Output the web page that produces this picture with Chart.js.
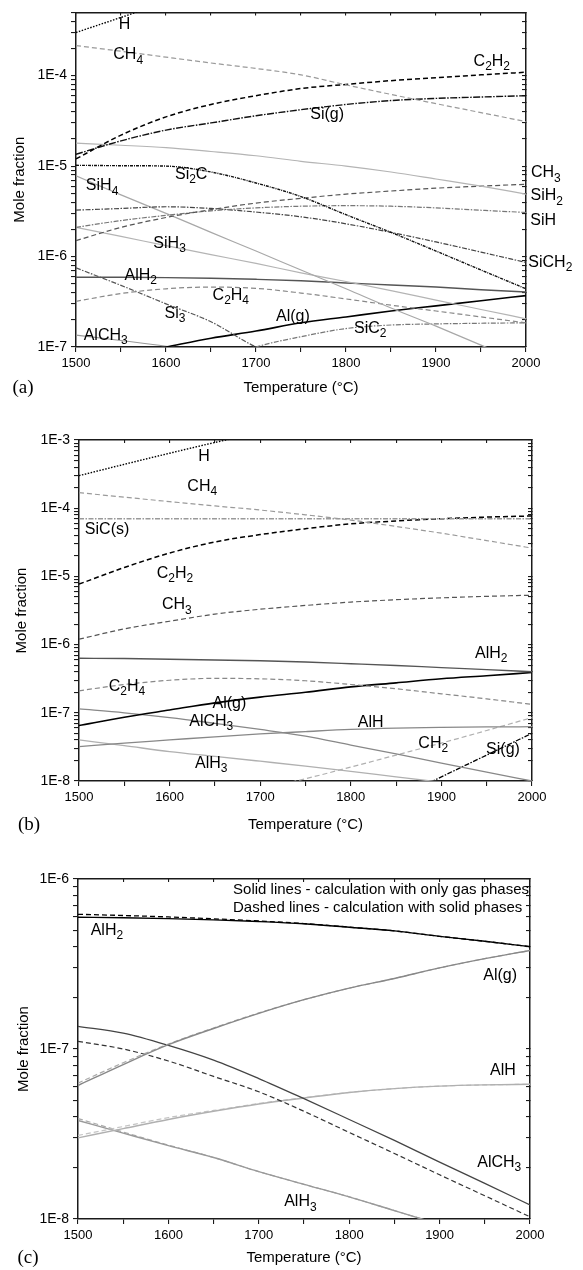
<!DOCTYPE html>
<html><head><meta charset="utf-8">
<script src="https://cdn.jsdelivr.net/npm/chart.js@4.4.1/dist/chart.umd.min.js"></script>
<style>
html,body{margin:0;padding:0;background:#fff;}
#wrap{position:relative;width:583px;height:1270px;overflow:hidden;}
canvas{position:absolute;left:0;}
</style>
</head><body><div id="wrap">
<canvas id="ca" width="583" height="420" style="top:0px;width:583px;height:420px"></canvas>
<canvas id="cb" width="583" height="430" style="top:410px;width:583px;height:430px"></canvas>
<canvas id="cc" width="583" height="440" style="top:830px;width:583px;height:440px"></canvas>
</div>
<script>
const FONT = '"Liberation Sans", Arial, Helvetica, sans-serif';
const SERIF = '"Liberation Serif", "Times New Roman", serif';

// ---------- shared x categories (temperature, °C) ----------
const T = [1500,1550,1600,1650,1700,1750,1800,1850,1900,1950,2000];

// ---------- panel (a) : mole fractions ----------
const a_H     = [3.0e-4,4.4e-4,6.5e-4,9.2e-4,1.3e-3,null,null,null,null,null,null];
const a_CH4   = [2.15e-4,1.86e-4,1.6e-4,1.38e-4,1.2e-4,1.02e-4,7.9e-5,6.2e-5,4.9e-5,3.9e-5,3.1e-5];
const a_C2H2  = [1.2e-5,2.2e-5,3.5e-5,4.8e-5,6.0e-5,7.2e-5,8.0e-5,8.8e-5,9.5e-5,1.02e-4,1.09e-4];
const a_Sig   = [1.35e-5,1.9e-5,2.5e-5,3.0e-5,3.6e-5,4.2e-5,4.8e-5,5.3e-5,5.6e-5,5.8e-5,6.0e-5];
const a_SiH2  = [1.79e-5,1.7e-5,1.6e-5,1.45e-5,1.3e-5,1.13e-5,1.0e-5,8.6e-6,7.2e-6,6.0e-6,4.9e-6];
const a_Si2C  = [1.02e-5,1.01e-5,1.0e-5,8.6e-6,6.5e-6,4.6e-6,2.9e-6,1.85e-6,1.15e-6,7.1e-7,4.4e-7];
const a_CH3   = [1.5e-6,2.1e-6,2.7e-6,3.3e-6,3.9e-6,4.4e-6,4.9e-6,5.3e-6,5.7e-6,6.0e-6,6.3e-6];
const a_SiH   = [2.1e-6,2.5e-6,2.85e-6,3.2e-6,3.45e-6,3.6e-6,3.65e-6,3.6e-6,3.45e-6,3.25e-6,3.07e-6];
const a_SiCH2 = [3.26e-6,3.4e-6,3.55e-6,3.4e-6,3.1e-6,2.75e-6,2.3e-6,1.85e-6,1.45e-6,1.12e-6,8.6e-7];
const a_SiH4  = [7.8e-6,4.8e-6,3.0e-6,1.85e-6,1.15e-6,7.1e-7,4.4e-7,2.7e-7,1.7e-7,1.05e-7,6.5e-8];
const a_SiH3  = [2.1e-6,1.67e-6,1.32e-6,1.05e-6,8.4e-7,6.6e-7,5.3e-7,4.2e-7,3.3e-7,2.6e-7,2.05e-7];
const a_AlH2  = [5.9e-7,5.9e-7,5.85e-7,5.75e-7,5.6e-7,5.4e-7,5.1e-7,4.85e-7,4.6e-7,4.3e-7,4.05e-7];
const a_C2H4  = [3.2e-7,3.9e-7,4.4e-7,4.6e-7,4.45e-7,3.95e-7,3.4e-7,2.9e-7,2.5e-7,2.15e-7,1.85e-7];
const a_Si3   = [7.5e-7,4.8e-7,3.0e-7,1.9e-7,1.0e-7,6.5e-8,null,null,null,null,null];
const a_Alg   = [6.3e-8,8.0e-8,1.0e-7,1.25e-7,1.5e-7,1.85e-7,2.15e-7,2.5e-7,2.85e-7,3.25e-7,3.7e-7];
const a_SiC2  = [null,null,null,6.5e-8,1.0e-7,1.3e-7,1.6e-7,1.75e-7,1.8e-7,1.83e-7,1.85e-7];
const a_AlCH3 = [1.35e-7,1.18e-7,1.02e-7,8.5e-8,null,null,null,null,null,null,null];

// ---------- panel (b) ----------
const b_H     = [3.0e-4,4.4e-4,6.4e-4,9.2e-4,1.3e-3,null,null,null,null,null,null];
const b_CH4   = [1.69e-4,1.45e-4,1.25e-4,1.08e-4,9.4e-5,8.0e-5,6.7e-5,5.4e-5,4.3e-5,3.35e-5,2.6e-5];
const b_SiCs  = [7.0e-5,7.0e-5,7.0e-5,7.0e-5,7.0e-5,7.0e-5,7.0e-5,7.0e-5,7.0e-5,7.0e-5,7.0e-5];
const b_C2H2  = [7.7e-6,1.35e-5,2.2e-5,3.2e-5,4.1e-5,5.0e-5,5.9e-5,6.5e-5,7.0e-5,7.4e-5,7.7e-5];
const b_CH3   = [1.2e-6,1.7e-6,2.2e-6,2.8e-6,3.3e-6,3.75e-6,4.2e-6,4.55e-6,4.85e-6,5.1e-6,5.3e-6];
const b_AlH2  = [6.3e-7,6.25e-7,6.1e-7,5.95e-7,5.8e-7,5.55e-7,5.25e-7,4.95e-7,4.6e-7,4.3e-7,4.0e-7];
const b_C2H4  = [2.1e-7,2.6e-7,3.0e-7,3.2e-7,3.15e-7,2.95e-7,2.6e-7,2.25e-7,1.9e-7,1.6e-7,1.33e-7];
const b_Alg   = [6.5e-8,8.6e-8,1.1e-7,1.4e-7,1.7e-7,2.0e-7,2.4e-7,2.75e-7,3.15e-7,3.5e-7,3.9e-7];
const b_AlCH3 = [1.14e-7,1.0e-7,8.5e-8,7.0e-8,5.7e-8,4.55e-8,3.37e-8,2.5e-8,1.83e-8,1.35e-8,1.0e-8];
const b_AlH   = [3.2e-8,3.6e-8,4.0e-8,4.45e-8,4.9e-8,5.3e-8,5.7e-8,5.95e-8,6.1e-8,6.2e-8,6.25e-8];
const b_AlH3  = [4.0e-8,3.3e-8,2.7e-8,2.3e-8,1.95e-8,1.65e-8,1.38e-8,1.15e-8,9.6e-9,null,null];
const b_CH2   = [null,null,null,null,7.6e-9,1.08e-8,1.6e-8,2.4e-8,3.6e-8,5.5e-8,8.5e-8];
const b_Sig   = [null,null,null,null,null,null,null,5.5e-9,1.15e-8,2.4e-8,5.0e-8];

// ---------- panel (c) : gas-only (g) vs with solid phases (s) ----------
const c_AlH2_g  = [5.96e-7,5.92e-7,5.85e-7,5.75e-7,5.62e-7,5.45e-7,5.2e-7,4.95e-7,4.6e-7,4.3e-7,4.0e-7];
const c_AlH2_s  = [6.2e-7,6.1e-7,5.98e-7,5.83e-7,5.66e-7,5.47e-7,5.21e-7,4.95e-7,4.6e-7,4.3e-7,4.0e-7];
const c_Alg_g   = [6.1e-8,8.1e-8,1.06e-7,1.32e-7,1.62e-7,1.95e-7,2.28e-7,2.6e-7,3.0e-7,3.4e-7,3.8e-7];
const c_Alg_s   = [6.3e-8,8.3e-8,1.07e-7,1.33e-7,1.63e-7,1.95e-7,2.28e-7,2.6e-7,3.0e-7,3.4e-7,3.8e-7];
const c_AlCH3_g = [1.36e-7,1.24e-7,1.05e-7,8.6e-8,6.7e-8,5.1e-8,3.85e-8,2.9e-8,2.16e-8,1.62e-8,1.21e-8];
const c_AlCH3_s = [1.11e-7,1.0e-7,8.5e-8,6.9e-8,5.6e-8,4.3e-8,3.23e-8,2.43e-8,1.82e-8,1.37e-8,1.03e-8];
const c_AlH_g   = [3.0e-8,3.4e-8,3.85e-8,4.3e-8,4.75e-8,5.15e-8,5.55e-8,5.85e-8,6.05e-8,6.15e-8,6.2e-8];
const c_AlH_s   = [3.1e-8,3.5e-8,3.95e-8,4.35e-8,4.78e-8,5.17e-8,5.55e-8,5.85e-8,6.05e-8,6.15e-8,6.2e-8];
const c_AlH3_g  = [3.8e-8,3.2e-8,2.7e-8,2.3e-8,1.9e-8,1.6e-8,1.35e-8,1.12e-8,9.3e-9,null,null];
const c_AlH3_s  = [3.9e-8,3.25e-8,2.72e-8,2.3e-8,1.9e-8,1.6e-8,1.35e-8,1.12e-8,9.3e-9,null,null];

// ---------- text labels ----------
const labelsA = [
  {s:'H',t:1554,v:3.7e-4},{s:'CH_4',t:1558,v:1.69e-4},{s:'C_2H_2',t:1962,v:1.43e-4},
  {s:'Si(g)',t:1779,v:3.7e-5},{s:'Si_2C',t:1628,v:8.1e-6},{s:'CH_3',t:2022,v:8.4e-6},
  {s:'SiH_2',t:2023,v:4.68e-6},{s:'SiH',t:2019,v:2.49e-6},{s:'SiCH_2',t:2027,v:8.65e-7},
  {s:'SiH_4',t:1529,v:6.03e-6},{s:'SiH_3',t:1604,v:1.38e-6},{s:'AlH_2',t:1572,v:6.18e-7},
  {s:'C_2H_4',t:1672,v:3.73e-7},{s:'Si_3',t:1610,v:2.34e-7},{s:'Al(g)',t:1741,v:2.15e-7},
  {s:'SiC_2',t:1827,v:1.6e-7},{s:'AlCH_3',t:1533,v:1.35e-7}
];
const labelsB = [
  {s:'H',t:1638,v:5.7e-4},{s:'CH_4',t:1636,v:2.07e-4},{s:'SiC(s)',t:1531,v:4.8e-5},
  {s:'C_2H_2',t:1606,v:1.11e-5},{s:'CH_3',t:1608,v:3.8e-6},{s:'AlH_2',t:1955,v:7.45e-7},
  {s:'C_2H_4',t:1553,v:2.41e-7},{s:'Al(g)',t:1666,v:1.38e-7},{s:'AlCH_3',t:1646,v:7.4e-8},
  {s:'AlH',t:1822,v:7.2e-8},{s:'CH_2',t:1891,v:3.57e-8},{s:'Si(g)',t:1968,v:2.85e-8},
  {s:'AlH_3',t:1646,v:1.82e-8}
];
const labelsC = [
  {s:'AlH_2',t:1532,v:5.0e-7},{s:'Al(g)',t:1967,v:2.72e-7},{s:'AlH',t:1970,v:7.5e-8},
  {s:'AlCH_3',t:1966,v:2.14e-8},{s:'AlH_3',t:1746,v:1.26e-8},
  {s:'Solid lines - calculation with only gas phases',t:1671.5,v:8.61e-7,align:'left',size:15},
  {s:'Dashed lines - calculation with solid phases',t:1671.5,v:6.74e-7,align:'left',size:15}
];

// ---------- helpers ----------
function drawRich(ctx, s, x, y, align, size) {
  const segs = []; let i = 0;
  while (i < s.length) {
    if (s[i] === '_') { segs.push({t:s[i+1], sub:true}); i += 2; }
    else { let j = i; while (j < s.length && s[j] !== '_') j++; segs.push({t:s.slice(i,j), sub:false}); i = j; }
  }
  const mainF = size + 'px ' + FONT, subF = Math.round(size*0.72) + 'px ' + FONT;
  let w = 0;
  segs.forEach(g => { ctx.font = g.sub ? subF : mainF; g.w = ctx.measureText(g.t).width; w += g.w; });
  let cx = align === 'left' ? x : (align === 'right' ? x - w : x - w/2);
  ctx.textBaseline = 'middle'; ctx.textAlign = 'left'; ctx.fillStyle = '#000';
  segs.forEach(g => { ctx.font = g.sub ? subF : mainF; ctx.fillText(g.t, cx, g.sub ? y + size*0.33 : y); cx += g.w; });
}

const textPlugin = {
  id: 'txt',
  afterDraw(chart, args, opts) {
    const ctx = chart.ctx, xs = chart.scales.x, ys = chart.scales.y;
    ctx.save();
    (opts.items || []).forEach(it => {
      drawRich(ctx, it.s, xs.getPixelForValue(it.t), ys.getPixelForValue(it.v), it.align || 'center', it.size || 16);
    });
    (opts.statics || []).forEach(it => {
      ctx.font = it.size + 'px ' + SERIF; ctx.fillStyle = '#000';
      ctx.textAlign = 'center'; ctx.textBaseline = 'middle';
      ctx.fillText(it.s, it.x, it.y);
    });
    ctx.restore();
  }
};

function ds(label, vals, color, dash, width) {
  return {
    label,
    data: T.map((t,i) => ({x:t, y:vals[i]})).filter(p => p.y != null),
    borderColor: color, borderDash: dash || [], borderWidth: width || 1.2,
    pointRadius: 0, fill: false, cubicInterpolationMode: 'monotone'
  };
}

const SOLID = [], DASH = [5,3], DOT = [1.5,1.5], DDOT = [5,1.5,1.5,1.5], DENSE = [3,1,1,1];

function logTicks(s) {
  const out = [];
  const e0 = Math.floor(Math.log10(s.min) + 1e-9), e1 = Math.ceil(Math.log10(s.max) - 1e-9);
  for (let e = e0; e <= e1; e++) for (let m = 1; m <= 9; m++) {
    const v = +(m * Math.pow(10, e)).toPrecision(6);
    if (v >= s.min * (1 - 1e-9) && v <= s.max * (1 + 1e-9)) out.push({value: v});
  }
  s.ticks = out;
}

function scalesFor(ymin, ymax, yW, xH, xTitlePad, yTitlePad) {
  const border = {display: true, color: '#1a1a1a', width: 1.5};
  const grid = {display: true, drawOnChartArea: false, drawTicks: true, color: '#1a1a1a', lineWidth: 1.1};
  return {
    x: {
      type: 'linear', position: 'bottom', min: 1500, max: 2000,
      ticks: {stepSize: 50, autoSkip: false, maxRotation: 0, color: '#000', padding: 4,
              font: {family: FONT, size: 13},
              callback: v => (v % 100 === 0 ? String(v) : '')},
      grid: Object.assign({}, grid, {tickLength: 5}), border,
      title: {display: true, text: 'Temperature (°C)', color: '#000',
              font: {family: FONT, size: 15}, padding: {top: 0, bottom: xTitlePad}},
      afterFit: s => { s.height = xH; }
    },
    x2: {
      type: 'linear', position: 'top', min: 1500, max: 2000,
      ticks: {display: false, stepSize: 50, autoSkip: false},
      grid: Object.assign({}, grid, {tickLength: -3}), border,
      afterFit: s => { s.height = 0; }
    },
    y: {
      type: 'logarithmic', position: 'left', min: ymin, max: ymax,
      afterBuildTicks: logTicks,
      ticks: {autoSkip: false, color: '#000', padding: 4, font: {family: FONT, size: 14},
              callback: v => { const e = Math.log10(v), r = Math.round(e); return Math.abs(e - r) < 1e-6 ? '1E' + r : ''; }},
      grid: Object.assign({}, grid, {tickLength: 5}), border,
      title: {display: true, text: 'Mole fraction', color: '#000',
              font: {family: FONT, size: 15}, padding: {top: yTitlePad, bottom: 0}},
      afterFit: s => { s.width = yW; }
    },
    y2: {
      type: 'logarithmic', position: 'right', min: ymin, max: ymax,
      afterBuildTicks: logTicks,
      ticks: {display: false, autoSkip: false},
      grid: Object.assign({}, grid, {tickLength: -4}), border,
      afterFit: s => { s.width = 0; }
    }
  };
}

function makeChart(id, datasets, scales, padding, items, statics) {
  return new Chart(document.getElementById(id), {
    type: 'line',
    data: {datasets},
    options: {
      responsive: false, animation: false, devicePixelRatio: 1,
      layout: {padding},
      scales,
      plugins: {legend: {display: false}, tooltip: {enabled: false}, txt: {items, statics}}
    },
    plugins: [textPlugin]
  });
}

// ---------- panel (a) ----------
makeChart('ca', [
  ds('H', a_H, '#000', DOT, 1.4),
  ds('CH4', a_CH4, '#9a9a9a', DASH, 1.2),
  ds('C2H2', a_C2H2, '#000', DASH, 1.5),
  ds('Si(g)', a_Sig, '#111', [7,1.5,1.5,1.5], 1.4),
  ds('SiH2', a_SiH2, '#b4b4b4', SOLID, 1.2),
  ds('Si2C', a_Si2C, '#111', DENSE, 1.4),
  ds('CH3', a_CH3, '#555', DASH, 1.2),
  ds('SiH', a_SiH, '#777', DDOT, 1.2),
  ds('SiCH2', a_SiCH2, '#444', DDOT, 1.2),
  ds('SiH4', a_SiH4, '#a8a8a8', SOLID, 1.2),
  ds('SiH3', a_SiH3, '#b4b4b4', SOLID, 1.2),
  ds('AlH2', a_AlH2, '#555', SOLID, 1.4),
  ds('C2H4', a_C2H4, '#888', DASH, 1.2),
  ds('Si3', a_Si3, '#555', DDOT, 1.2),
  ds('Al(g)', a_Alg, '#000', SOLID, 1.6),
  ds('SiC2', a_SiC2, '#777', DDOT, 1.2),
  ds('AlCH3', a_AlCH3, '#999', SOLID, 1.2)
], scalesFor(1e-7, 5e-4, 76, 73, 23, 11), {left: 0, top: 8.3, right: 57, bottom: 0},
   labelsA, [{s:'(a)', x:23, y:388, size:19}]);

// ---------- panel (b) ----------
makeChart('cb', [
  ds('H', b_H, '#000', DOT, 1.4),
  ds('CH4', b_CH4, '#9a9a9a', DASH, 1.2),
  ds('SiC(s)', b_SiCs, '#9a9a9a', DDOT, 1.4),
  ds('C2H2', b_C2H2, '#000', DASH, 1.5),
  ds('CH3', b_CH3, '#555', DASH, 1.2),
  ds('AlH2', b_AlH2, '#555', SOLID, 1.4),
  ds('C2H4', b_C2H4, '#888', DASH, 1.2),
  ds('Al(g)', b_Alg, '#000', SOLID, 1.6),
  ds('AlCH3', b_AlCH3, '#888', SOLID, 1.3),
  ds('AlH', b_AlH, '#888', SOLID, 1.3),
  ds('AlH3', b_AlH3, '#b0b0b0', SOLID, 1.3),
  ds('CH2', b_CH2, '#b0b0b0', DASH, 1.2),
  ds('Si(g)', b_Sig, '#000', DDOT, 1.3)
], scalesFor(1e-8, 1e-3, 79, 59, 6, 13), {left: 0, top: 30, right: 51, bottom: 0},
   labelsB, [{s:'(b)', x:29, y:415, size:19}]);

// ---------- panel (c) ----------
makeChart('cc', [
  ds('AlH2 gas', c_AlH2_g, '#000', SOLID, 1.4),
  ds('AlH2 solid', c_AlH2_s, '#000', DASH, 1.3),
  ds('Al(g) gas', c_Alg_g, '#888', SOLID, 1.4),
  ds('Al(g) solid', c_Alg_s, '#aaa', DASH, 1.2),
  ds('AlCH3 gas', c_AlCH3_g, '#444', SOLID, 1.3),
  ds('AlCH3 solid', c_AlCH3_s, '#333', DASH, 1.2),
  ds('AlH gas', c_AlH_g, '#b0b0b0', SOLID, 1.4),
  ds('AlH solid', c_AlH_s, '#c4c4c4', DASH, 1.2),
  ds('AlH3 gas', c_AlH3_g, '#999', SOLID, 1.4),
  ds('AlH3 solid', c_AlH3_s, '#aaa', DASH, 1.2)
], scalesFor(1e-8, 1e-6, 78, 51, 3, 15), {left: 0, top: 49, right: 53, bottom: 0},
   labelsC, [{s:'(c)', x:28, y:428, size:19}]);
</script>
</body></html>
